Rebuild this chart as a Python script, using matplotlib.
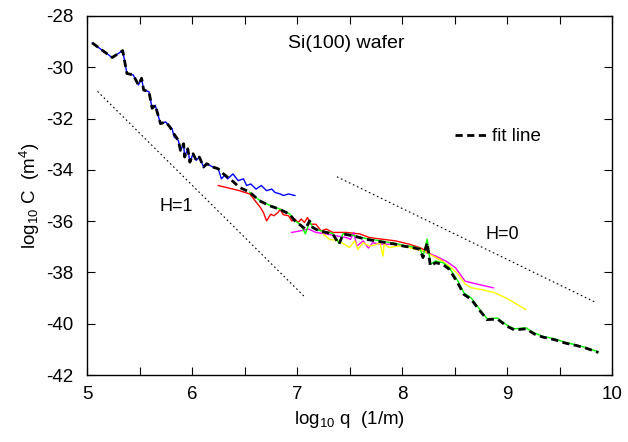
import matplotlib
matplotlib.use("Agg")
import matplotlib.pyplot as plt

plt.rcParams['font.family'] = ['Liberation Sans', 'DejaVu Sans']
plt.rcParams['mathtext.fontset'] = 'custom'
plt.rcParams['mathtext.rm'] = 'Liberation Sans'
plt.rcParams['mathtext.it'] = 'Liberation Sans'
plt.rcParams['axes.unicode_minus'] = False

# ---- data (log10 q, log10 C) ----
blue_x = [5.05, 5.24, 5.34, 5.38, 5.44, 5.49, 5.52, 5.54, 5.59, 5.62, 5.65, 5.70, 5.75, 5.79,
          5.81, 5.83, 5.87, 5.89, 5.92, 5.93, 5.96, 5.98, 6.01, 6.04, 6.07, 6.11, 6.14, 6.20,
          6.25, 6.28, 6.31, 6.34, 6.39, 6.44, 6.49, 6.52, 6.56, 6.61, 6.66, 6.71, 6.76, 6.79,
          6.84, 6.87, 6.92, 6.98]
blue_y = [-29.05, -29.62, -29.35, -30.24, -30.30, -30.69, -30.43, -30.89, -30.95, -31.60, -31.48,
          -32.20, -32.13, -32.33, -32.39, -32.72, -32.85, -33.24, -32.98, -33.50, -33.18, -33.70,
          -33.37, -33.63, -33.50, -33.89, -33.76, -33.89, -33.96, -34.35, -34.22, -34.35, -34.16,
          -34.42, -34.35, -34.61, -34.55, -34.75, -34.61, -34.81, -34.75, -34.88, -34.94, -35.00,
          -34.94, -35.00]

red_x = [6.25, 6.45, 6.55, 6.60, 6.65, 6.68, 6.71, 6.75, 6.78, 6.82, 6.84, 6.87, 6.92, 6.95,
         6.98, 7.01, 7.04, 7.07, 7.10, 7.13, 7.18, 7.23, 7.28, 7.34, 7.40, 7.47, 7.60, 7.69,
         7.82, 7.94, 8.07, 8.17, 8.23, 8.30, 8.39]
red_y = [-34.61, -34.81, -34.94, -35.20, -35.46, -35.66, -35.99, -35.73, -35.79, -35.66, -35.53,
         -35.75, -35.79, -35.99, -35.92, -36.05, -35.92, -36.05, -35.86, -36.12, -36.12, -36.38,
         -36.31, -36.44, -36.44, -36.44, -36.50, -36.64, -36.71, -36.77, -36.90, -37.03, -37.16,
         -37.36, -37.56]

mag_x = [6.95, 7.03, 7.11, 7.18, 7.28, 7.37, 7.47, 7.51, 7.54, 7.57, 7.63, 7.68, 7.72, 7.80,
         7.91, 8.04, 8.13, 8.23, 8.32, 8.42, 8.51, 8.60, 8.73, 8.87]
mag_y = [-36.44, -36.38, -36.31, -36.44, -36.50, -36.57, -36.64, -36.71, -36.44, -36.97, -36.77,
         -37.05, -36.84, -36.90, -36.90, -36.97, -37.03, -37.23, -37.36, -37.56, -37.82, -38.34,
         -38.47, -38.60]

yel_x = [7.25, 7.31, 7.40, 7.50, 7.55, 7.58, 7.63, 7.69, 7.75, 7.79, 7.82, 7.83, 7.88, 7.96,
         8.04, 8.13, 8.21, 8.26, 8.36, 8.45, 8.53, 8.60, 8.66, 8.76, 8.89, 9.02, 9.18]
yel_y = [-36.50, -36.71, -36.77, -37.03, -36.77, -37.10, -36.84, -36.97, -36.92, -36.84, -37.36,
         -36.90, -37.03, -36.97, -37.00, -37.10, -37.16, -37.29, -37.49, -37.75, -38.05, -38.45,
         -38.60, -38.67, -38.80, -39.06, -39.45]

green_x = [6.55, 6.64, 6.74, 6.83, 6.93, 6.98, 7.04, 7.08, 7.12, 7.15, 7.21, 7.28, 7.34, 7.40,
           7.44, 7.53, 7.66, 7.75, 7.85, 7.94, 8.01, 8.10, 8.17, 8.20, 8.24, 8.27, 8.32, 8.39,
           8.45, 8.53, 8.59, 8.66, 8.72, 8.81, 8.91, 9.00, 9.07, 9.18, 9.26, 9.34, 9.45, 9.56,
           9.66, 9.75, 9.87]
green_y = [-34.87, -35.18, -35.38, -35.52, -35.72, -35.98, -36.16, -36.50, -36.00, -36.24, -36.36,
           -36.42, -36.48, -36.85, -36.48, -36.55, -36.68, -36.74, -36.81, -36.87, -36.94, -37.00,
           -37.06, -37.38, -36.70, -37.68, -37.55, -37.62, -37.82, -38.32, -38.80, -39.00, -39.33,
           -39.80, -39.78, -40.06, -40.20, -40.16, -40.36, -40.49, -40.59, -40.73, -40.83, -40.93,
           -41.10]

fit_x = [5.05, 5.24, 5.34, 5.38, 5.44, 5.49, 5.52, 5.54, 5.59, 5.62, 5.65, 5.70, 5.75, 5.79,
         5.82, 5.87, 5.89, 5.92, 5.93, 5.96, 5.98, 6.01, 6.04, 6.07, 6.11, 6.14, 6.20, 6.25,
         6.30, 6.39, 6.45, 6.55, 6.64, 6.74, 6.83, 6.93, 6.98, 7.04, 7.08, 7.12, 7.15, 7.21,
         7.28, 7.34, 7.40, 7.44, 7.53, 7.66, 7.75, 7.85, 7.94, 8.01, 8.10, 8.17, 8.20, 8.24,
         8.27, 8.32, 8.39, 8.45, 8.53, 8.59, 8.66, 8.72, 8.81, 8.91, 9.00, 9.07, 9.18, 9.26,
         9.34, 9.45, 9.56, 9.66, 9.75, 9.87]
fit_y = [-29.05, -29.62, -29.35, -30.24, -30.30, -30.69, -30.43, -30.89, -30.95, -31.60, -31.48,
         -32.20, -32.13, -32.33, -32.55, -32.85, -33.24, -32.98, -33.50, -33.18, -33.70, -33.37,
         -33.63, -33.50, -33.89, -33.76, -33.89, -33.96, -34.16, -34.45, -34.68, -34.87, -35.20,
         -35.40, -35.53, -35.73, -35.99, -36.18, -36.31, -35.99, -36.25, -36.38, -36.44, -36.50,
         -36.90, -36.50, -36.57, -36.71, -36.77, -36.84, -36.90, -36.97, -37.03, -37.10, -37.42,
         -36.84, -37.75, -37.62, -37.69, -37.88, -38.40, -38.86, -39.05, -39.38, -39.84, -39.82,
         -40.10, -40.24, -40.20, -40.40, -40.52, -40.62, -40.76, -40.85, -40.95, -41.12]

h1_x = [5.10, 7.08]
h1_y = [-30.94, -38.98]
h0_x = [7.38, 9.85]
h0_y = [-34.27, -39.18]

xticks = [5, 6, 7, 8, 9, 10]
yticks = [-28, -30, -32, -34, -36, -38, -40, -42]

# ---- figure ----
fig = plt.figure(figsize=(6.28, 4.42), dpi=100)
ax = fig.add_axes([87 / 628, 67 / 442, 525 / 628, 359 / 442])

ax.plot(blue_x, blue_y, color='#0000ff', lw=1.0)
ax.plot(red_x, red_y, color='#ff0000', lw=1.0)
ax.plot(mag_x, mag_y, color='#ff00ff', lw=1.0)
ax.plot(yel_x, yel_y, color='#ffff00', lw=1.0)
ax.plot(green_x, green_y, color='#00ff00', lw=1.0)
ax.plot(fit_x, fit_y, color='black', lw=2.0, dashes=(2.6, 1.6), label='fit line')

dot = (0, (1.5, 2.5))
ax.plot(h1_x, h1_y, color='black', lw=0.8, linestyle=dot)
ax.plot(h0_x, h0_y, color='black', lw=0.8, linestyle=dot)

ax.text(0.1705, 0.468, 'H=1', transform=ax.transAxes, fontsize=13, ha='center', va='center')
ax.text(0.791, 0.392, 'H=0', transform=ax.transAxes, fontsize=13, ha='center', va='center')
ax.text(0.494, 0.924, 'Si(100) wafer', transform=ax.transAxes, fontsize=14,
        ha='center', va='center')

ax.legend(loc='center left', bbox_to_anchor=(0.70, 0.664), frameon=False,
          borderpad=0, borderaxespad=0, handlelength=1.7, handletextpad=0.3,
          fontsize=13.5)

ax.set_xlim(5, 10)
ax.set_ylim(-42, -28)
ax.set_xticks(xticks)
ax.set_yticks(yticks)
ax.set_xticks([5.5, 6.5, 7.5, 8.5, 9.5], minor=True)
ax.tick_params(which='both', direction='in', top=True, right=True, labelsize=13.5, width=0.8)
ax.tick_params(which='major', length=6)
ax.tick_params(axis='y', which='major', pad=10)
ax.tick_params(axis='x', which='major', pad=8)
ax.tick_params(which='minor', length=6)
for s in ax.spines.values():
    s.set_linewidth(1.0)

ax.set_xlabel(r'log$_{10}$ q  (1/m)', fontsize=13.5, labelpad=4)
ax.set_ylabel(r'log$_{10}$ C  (m$^4$)', fontsize=13.5, labelpad=3)

fig.savefig('out.png', dpi=100)
